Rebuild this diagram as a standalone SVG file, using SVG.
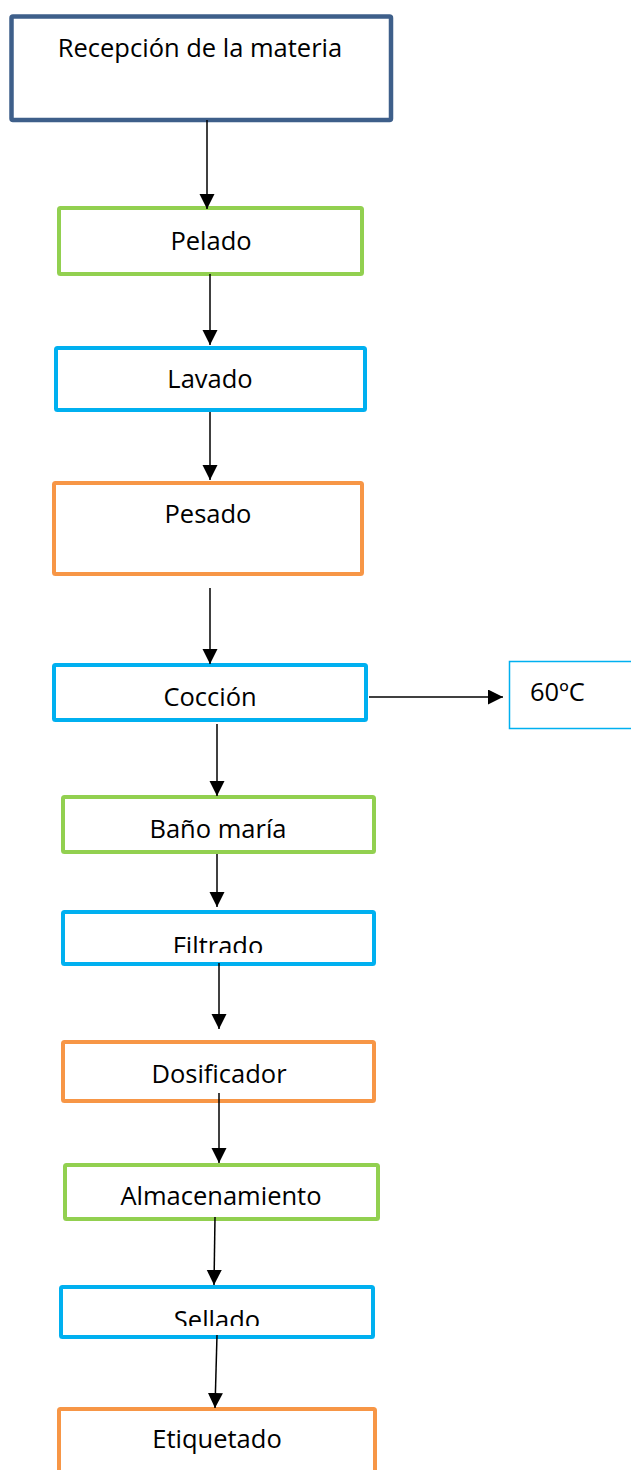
<svg xmlns="http://www.w3.org/2000/svg" width="631" height="1470" viewBox="0 0 631 1470">
<style>
.box{fill:#fff;stroke-width:4}
.navy{stroke:#3E5F8A;stroke-width:4.5}
.green{stroke:#92D050}
.blue{stroke:#00B0F0}
.orange{stroke:#F79646}
.thin{stroke:#00B0F0;stroke-width:1.5}
.t{font-family:"Open Sans","Liberation Sans",sans-serif;font-size:25.5px;fill:#000;text-anchor:middle}
.c line{stroke:#000;stroke-width:1.5;marker-end:url(#a)}
</style>
<defs>
<marker id="a" markerUnits="userSpaceOnUse" markerWidth="16" markerHeight="16" refX="15" refY="7.5" orient="auto"><path d="M0,0L15,7.5L0,15z" fill="#000"/></marker>
<clipPath id="cf"><rect x="0" y="900" width="631" height="53"/></clipPath>
<clipPath id="cs"><rect x="0" y="1280" width="631" height="46"/></clipPath>
</defs>
<rect width="631" height="1470" fill="#fff"/>
<g id="recepcion"><rect class="box navy" x="11.5" y="16.5" width="379.5" height="103.5" rx="1.5"/><text class="t" x="200" y="57">Recepción de la materia</text></g>
<g id="pelado"><rect class="box green" x="59" y="208" width="303" height="66" rx="1.5"/><text class="t" x="211" y="250">Pelado</text></g>
<g id="lavado"><rect class="box blue" x="56" y="348" width="309" height="62" rx="1.5"/><text class="t" x="210" y="388">Lavado</text></g>
<g id="pesado"><rect class="box orange" x="54" y="483" width="308" height="91" rx="1.5"/><text class="t" x="208" y="523">Pesado</text></g>
<g id="coccion"><rect class="box blue" x="54" y="665" width="312" height="55" rx="1.5"/><text class="t" x="210" y="706">Cocción</text></g>
<g id="temp"><rect class="box thin" x="509.5" y="661.5" width="130" height="67"/><text class="t" x="530" y="701" style="text-anchor:start">60ºC</text></g>
<g id="bano"><rect class="box green" x="63" y="797" width="311" height="55" rx="1.5"/><text class="t" x="218" y="838">Baño maría</text></g>
<g id="filtrado"><rect class="box blue" x="63" y="912" width="311" height="52" rx="1.5"/><text class="t" x="218" y="955" clip-path="url(#cf)">Filtrado</text></g>
<g id="dosificador"><rect class="box orange" x="63" y="1042" width="311" height="59" rx="1.5"/><text class="t" x="219" y="1083">Dosificador</text></g>
<g id="almacenamiento"><rect class="box green" x="65" y="1165" width="313" height="54" rx="1.5"/><text class="t" x="221" y="1205">Almacenamiento</text></g>
<g id="sellado"><rect class="box blue" x="61" y="1287" width="312" height="50" rx="1.5"/><text class="t" x="217" y="1329" clip-path="url(#cs)">Sellado</text></g>
<g id="etiquetado"><rect class="box orange" x="59" y="1409" width="316" height="70" rx="1.5"/><text class="t" x="217" y="1448">Etiquetado</text></g>
<g id="connectors" class="c">
<line x1="207" y1="120" x2="207" y2="209"/>
<line x1="210" y1="274" x2="210" y2="345"/>
<line x1="210" y1="412" x2="210" y2="480"/>
<line x1="210" y1="588" x2="210" y2="664"/>
<line x1="369" y1="697" x2="503" y2="697"/>
<line x1="217" y1="724" x2="217" y2="796"/>
<line x1="217" y1="854" x2="217" y2="907"/>
<line x1="219" y1="963" x2="219" y2="1029"/>
<line x1="219" y1="1093" x2="219" y2="1163"/>
<line x1="215" y1="1217" x2="214" y2="1285"/>
<line x1="217" y1="1335" x2="215" y2="1408"/>
</g>
</svg>
